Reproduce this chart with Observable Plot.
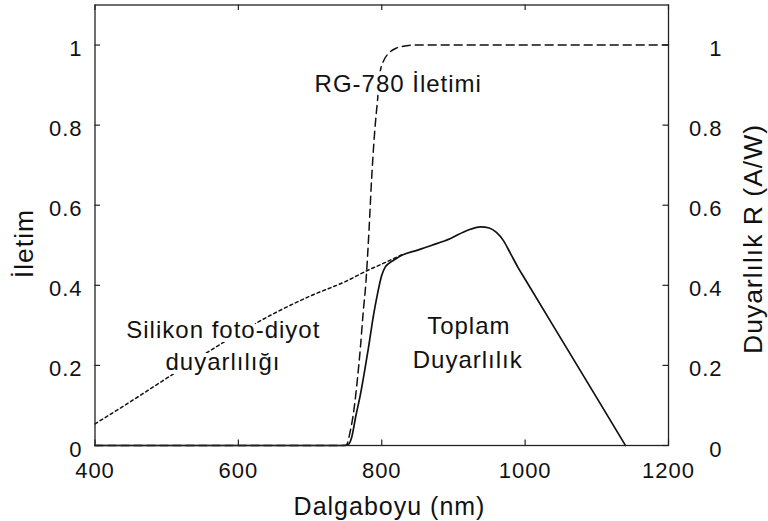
<!DOCTYPE html>
<html>
<head>
<meta charset="utf-8">
<script src="https://cdn.jsdelivr.net/npm/d3@7"></script>
<script src="https://cdn.jsdelivr.net/npm/@observablehq/plot@0.6"></script>
<style>
  body { margin: 0; background: #fff; }
  #chart svg { font-family: "Liberation Sans", Arial, sans-serif; letter-spacing: 1px; }
</style>
</head>
<body>
<div id="chart"></div>
<script>
// RG-780 filter transmission (dashed)
const filterNm = [400, 700, 750, 756, 762, 766, 770, 774, 778, 782, 786, 790, 794, 798, 803, 810, 820, 830, 845, 1200];
const filterT  = [0, 0, 0, 0.035, 0.10, 0.165, 0.24, 0.33, 0.41, 0.53, 0.67, 0.78, 0.86, 0.935, 0.962, 0.98, 0.992, 0.997, 1.0, 1.0];

// Silicon photodiode responsivity (dotted)
const siliconNm = [400, 450, 500, 550, 600, 650, 700, 750, 780, 800, 830];
const siliconR  = [0.054, 0.11, 0.168, 0.225, 0.28, 0.33, 0.373, 0.41, 0.437, 0.453, 0.478];

// Total responsivity (solid)
const totalNm = [400, 700, 745, 753, 758, 764, 770, 776, 782, 788, 794, 800, 805, 810, 817, 828, 850, 870, 896, 919, 938, 950, 960, 970, 980, 990, 1000, 1050, 1100, 1140];
const totalR  = [0, 0, 0, 0.002, 0.02, 0.075, 0.125, 0.185, 0.25, 0.32, 0.378, 0.425, 0.446, 0.455, 0.463, 0.475, 0.488, 0.5, 0.517, 0.537, 0.546, 0.543, 0.532, 0.511, 0.478, 0.445, 0.415, 0.267, 0.119, 0];

// Axis ticks
const xTickValues = [400, 600, 800, 1000, 1200];
const yTickValues = [0, 0.2, 0.4, 0.6, 0.8, 1];
const yTickLabels = ["0", "0.2", "0.4", "0.6", "0.8", "1"];

// Annotations
const annoText = ["RG-780 İletimi", "Silikon foto-diyot", "duyarlılığı", "Toplam", "Duyarlılık"];
const annoNm   = [823, 579, 578.5, 921.5, 920];
const annoVal  = [0.9025, 0.2875, 0.2085, 0.2968, 0.2135];

// Titles
const xTitle = "Dalgaboyu (nm)";
const yLeftTitle = "İletim";
const yRightTitle = "Duyarlılık R (A/W)";

const filterData = filterNm.map((x, i) => ({x, y: filterT[i]}));
const siliconData = siliconNm.map((x, i) => ({x, y: siliconR[i]}));
const totalData = totalNm.map((x, i) => ({x, y: totalR[i]}));
const annoData = annoText.map((t, i) => ({t, x: annoNm[i], y: annoVal[i]}));

const W = 768, H = 521;
const mL = 94.5, mR = 100, mT = 4.5, mB = 76;
const innerW = W - mL - mR, innerH = H - mT - mB;
const ink = "#111";
const tickLen = 5.5;

const chart = Plot.plot({
  width: W, height: H,
  marginLeft: mL, marginRight: mR, marginTop: mT, marginBottom: mB,
  style: {fontFamily: "'Liberation Sans', Arial, sans-serif", background: "#fff"},
  x: {domain: [400, 1200]},
  y: {domain: [0, 1.1]},
  marks: [
    // lines
    Plot.line(siliconData, {x: "x", y: "y", stroke: ink, strokeWidth: 1.5, strokeDasharray: "3,3", curve: "monotone-x"}),
    Plot.line(filterData, {x: "x", y: "y", stroke: ink, strokeWidth: 1.5, strokeDasharray: "8,5", curve: "monotone-x"}),
    Plot.line(totalData, {x: "x", y: "y", stroke: ink, strokeWidth: 1.7, curve: "monotone-x"}),
    // frame and inward ticks
    Plot.frame({stroke: "#222", strokeWidth: 1.3}),
    Plot.ruleX(xTickValues, {stroke: "#222", strokeWidth: 1.2, insetTop: innerH - tickLen}),
    Plot.ruleX(xTickValues, {stroke: "#222", strokeWidth: 1.2, insetBottom: innerH - tickLen}),
    Plot.ruleY(yTickValues, {stroke: "#222", strokeWidth: 1.2, insetRight: innerW - tickLen}),
    Plot.ruleY(yTickValues, {stroke: "#222", strokeWidth: 1.2, insetLeft: innerW - tickLen}),
    // axes labels
    Plot.axisX({ticks: xTickValues, tickSize: 0, tickPadding: 17, label: null, fontSize: 22, fill: ink, tickFormat: d => String(d)}),
    Plot.axisY({anchor: "left", ticks: yTickValues, tickSize: 0, tickPadding: 12.5, label: null, fontSize: 22, fill: ink, dy: 4,
      tickFormat: d => yTickLabels[yTickValues.indexOf(d)]}),
    Plot.axisY({anchor: "right", ticks: yTickValues, tickSize: 0, tickPadding: 54, textAnchor: "end", label: null, fontSize: 22, fill: ink, dy: 4,
      tickFormat: d => yTickLabels[yTickValues.indexOf(d)]}),
    // annotations with white halo
    Plot.text(annoData, {x: "x", y: "y", text: "t", fontSize: 24, fill: ink, stroke: "white", strokeWidth: 8, strokeLinejoin: "round", paintOrder: "stroke"}),
    // titles
    Plot.text([xTitle], {frameAnchor: "bottom", text: d => d, textAnchor: "middle", lineAnchor: "middle", dx: 7.75, dy: 61, fontSize: 25, fill: ink}),
    Plot.text([yLeftTitle], {frameAnchor: "left", text: d => d, textAnchor: "middle", lineAnchor: "middle", rotate: -90, dx: -70, dy: 18.25, fontSize: 26.5, fill: ink}),
    Plot.text([yRightTitle], {frameAnchor: "right", text: d => d, textAnchor: "middle", lineAnchor: "middle", rotate: -90, dx: 85.5, dy: 13.75, fontSize: 26.5, fill: ink})
  ]
});
document.getElementById("chart").appendChild(chart);
</script>
</body>
</html>
